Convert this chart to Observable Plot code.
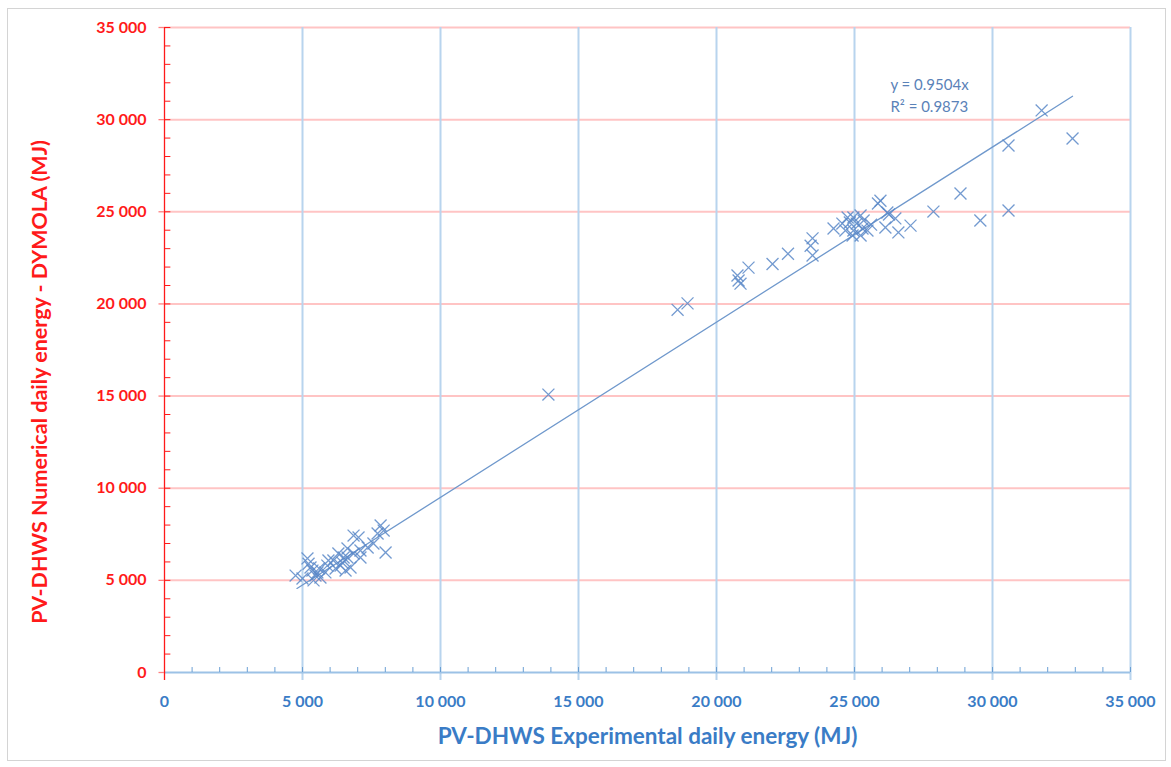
<!DOCTYPE html>
<html>
<head>
<meta charset="utf-8">
<script src="https://cdn.jsdelivr.net/npm/d3@7"></script>
<script src="https://cdn.jsdelivr.net/npm/@observablehq/plot@0.6"></script>
<style>
  body { margin: 0; background: #fff; }
  #wrap { position: relative; width: 1171px; height: 767px; }
  #border { position: absolute; left: 7px; top: 8px; width: 1157px; height: 751px; border: 1.5px solid #d4d4d4; pointer-events: none; }
</style>
</head>
<body>
<div id="wrap"><div id="border"></div></div>
<script>
// Experimental (x) vs numerical (y) daily energy, MJ
const expX = [
  4750,5000,5180,5220,5290,5360,5470,5540,5650,5400,5600,5830,5900,5940,6120,6200,6300,6380,6450,6490,
  6560,6630,6630,6740,6850,6850,7030,7100,7100,7360,7570,7720,7830,7940,8010,
  13910,18590,18950,20760,20800,20870,21160,22030,22590,23410,23480,23480,
  24240,24560,24670,24750,24830,24930,24960,24960,25080,25220,25220,25290,25330,25470,25600,
  25940,25850,26190,26250,26480,26120,26590,27030,27860,28840,29560,30580,30580,31780,32900
];
const numY = [
  5260,5100,6190,5900,5700,5530,5260,5430,5150,5000,5650,5430,5800,6080,6080,5640,6460,5800,5950,6240,
  5530,6730,6240,5700,6460,7430,7330,6620,6240,6780,7000,7540,7980,7700,6510,
  15080,19680,20030,21540,21270,21100,21970,22170,22720,23160,23560,22630,
  24090,24360,23980,24690,24420,23710,24690,23980,24360,24800,23710,24090,24530,23980,24300,
  25600,25450,24960,24850,24640,24150,23880,24250,25010,25990,24525,25070,28600,30500,28980
];
// Linear trend through origin (Excel): y = 0.9504x
const trendSlope = 0.9504;
const trendX = [4800, 32900];
const eqLines = ["y = 0.9504x", "R² = 0.9873"];
const eqX = [26300, 26300];
const eqY = [31850, 30650];
const majorTicks = [0, 5000, 10000, 15000, 20000, 25000, 30000, 35000];
const minorTicks = d3.range(1000, 35001, 1000);

const points = expX.map((x, i) => ({x, y: numY[i]}));
const trend = trendX.map(x => ({x, y: trendSlope * x}));
const eq = eqLines.map((t, i) => ({t, x: eqX[i], y: eqY[i]}));
const fmt = d => d3.format(",")(d).replace(/,/g, " ");

const RED = "#ff1a1a", BLUE = "#3a7cc6";

const chart = Plot.plot({
  width: 1171, height: 767,
  marginLeft: 164, marginRight: 41, marginTop: 27, marginBottom: 95,
  style: {fontFamily: "Lato, 'Open Sans', sans-serif", background: "transparent"},
  x: {domain: [0, 35000]},
  y: {domain: [0, 35000]},
  marks: [
    Plot.ruleY(majorTicks.filter(d => d > 0), {stroke: "#ffc4c4", strokeWidth: 2}),
    Plot.ruleX(majorTicks.filter(d => d > 0), {y1: -440, y2: 35000, stroke: "#b8d4ee", strokeWidth: 2}),
    Plot.ruleY([0], {x1: 0, x2: 35000, stroke: "#9cc2e6", strokeWidth: 2}),
    Plot.ruleX([0], {y1: -440, y2: 35000, stroke: RED, strokeWidth: 1.3}),
    Plot.ruleY(minorTicks, {x1: 0, x2: 230, stroke: RED, strokeWidth: 1}),
    Plot.ruleY(majorTicks, {x1: -200, x2: 0, stroke: "#ff8080", strokeWidth: 1.3}),
    Plot.ruleX(minorTicks, {y1: 0, y2: 270, stroke: "#6a9fd4", strokeWidth: 1}),
    Plot.axisY({ticks: majorTicks, tickSize: 0, tickPadding: 18, tickFormat: fmt, label: null,
      color: RED, fontSize: 16, fontWeight: "bold"}),
    Plot.axisX({ticks: majorTicks, tickSize: 0, tickPadding: 23, tickFormat: fmt, label: null,
      color: BLUE, fontSize: 16, fontWeight: "bold"}),
    Plot.text(["PV-DHWS Numerical daily energy - DYMOLA (MJ)"], {frameAnchor: "left", dx: -124, dy: 32, rotate: -90,
      fill: RED, fontSize: 21.5, fontWeight: "bold", textAnchor: "middle"}),
    Plot.text(["PV-DHWS Experimental daily energy (MJ)"], {frameAnchor: "bottom", dy: 71,
      fill: BLUE, fontSize: 22.5, fontWeight: "bold", textAnchor: "middle"}),
    Plot.line(trend, {x: "x", y: "y", stroke: "#6f98cc", strokeWidth: 1.3}),
    Plot.dot(points, {x: "x", y: "y", symbol: "times", r: 5.5, stroke: "#5a88c8", strokeWidth: 1.3, strokeOpacity: 0.85}),
    Plot.text(eq, {x: "x", y: "y", text: "t", textAnchor: "start", fill: "#5a82b8", fontSize: 15})
  ]
});
document.getElementById("wrap").appendChild(chart);
</script>
</body>
</html>
